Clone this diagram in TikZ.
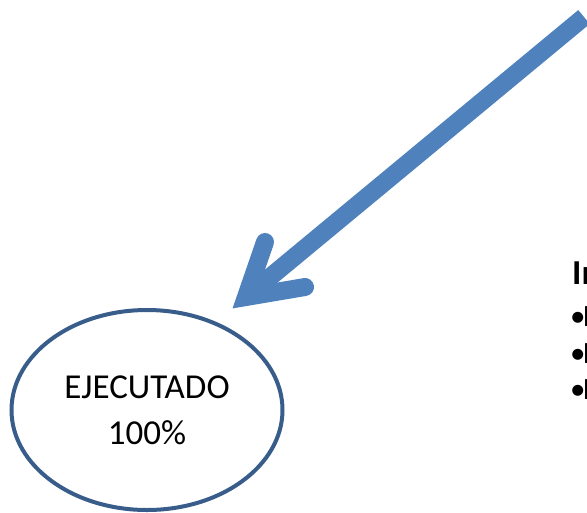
\documentclass[tikz,border=0pt]{standalone}
\usepackage{fontspec}
\setmainfont{Carlito}
\usetikzlibrary{positioning, shapes.geometric}
\definecolor{arrowblue}{HTML}{4F81BD}
\definecolor{rimblue}{HTML}{385D8A}
\tikzset{
	x=1pt, y=-1pt, % one unit is one pixel, y runs down
	shaft/.style={draw=arrowblue, line width=18pt, line cap=butt}, % the body of the big arrow
	barbs/.style={draw=arrowblue, line width=18pt, line cap=round, line join=miter}, % the head of the big arrow
	goal/.style={ellipse, draw=rimblue, line width=4pt, minimum width=271pt, minimum height=200pt, inner sep=0pt, align=center, font=\fontsize{35}{46}\selectfont}, % the oval
	note/.style={anchor=base west, inner sep=0pt, font=\fontsize{31}{37}\selectfont}, % lines of the cut off text
}
\begin{document}
\begin{tikzpicture}
	\useasboundingbox (0,0) rectangle (587,512);
	\clip (0,0) rectangle (587,512);
			\coordinate (start) at (584,17);
			\coordinate (tip) at (246,297);
			\coordinate (barbA) at (265,242);
			\coordinate (barbB) at (305,287);
			\node[goal] (ejec) at (147,410) {EJECUTADO\\100\%};
			\node[note, font=\fontsize{35}{42}\selectfont\bfseries] (head) at (572,284) {In};
			\node[note] (item1) at (570,326) {•\kern-3pt I};
			\node[note] (item2) at (570,363) {•\kern-3pt I};
			\node[note] (item3) at (570,399) {•\kern-3pt I};
	\draw[shaft] (start) -- (tip);
	\draw[barbs] (barbA) -- (tip) -- (barbB);
\end{tikzpicture}
\end{document}
